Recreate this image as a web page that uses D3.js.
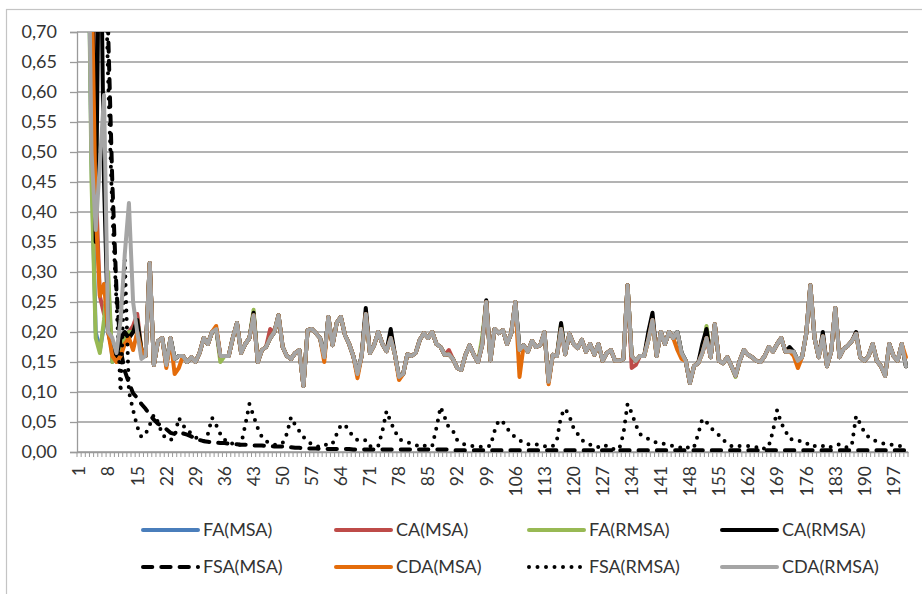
<!DOCTYPE html>
<html>
<head>
<meta charset="utf-8">
<script src="https://cdn.jsdelivr.net/npm/d3@7/dist/d3.min.js"></script>
<style>
  html, body { margin: 0; padding: 0; background: #fff; }
  svg { display: block; font-family: Lato, "Open Sans", sans-serif; }
</style>
</head>
<body>
<svg id="chart" width="922" height="594"></svg>
<script>
// ---- data -------------------------------------------------------------
const categories = d3.range(1, 201);
const xTickLabels = [1, 8, 15, 22, 29, 36, 43, 50, 57, 64, 71, 78, 85, 92, 99, 106, 113,
  120, 127, 134, 141, 148, 155, 162, 169, 176, 183, 190, 197];
const yTicks = [0, 0.05, 0.10, 0.15, 0.20, 0.25, 0.30, 0.35, 0.40, 0.45, 0.50, 0.55, 0.60, 0.65, 0.70];

// CDA(RMSA): the common path the six solid series follow
const cdaRmsa = [
  2.2, 1.6, 1.0, 0.5, 0.37, 0.48, 0.595, 0.2, 0.19, 0.165,
  0.22, 0.33, 0.415, 0.25, 0.2, 0.155, 0.16, 0.315, 0.145, 0.185,
  0.19, 0.145, 0.19, 0.155, 0.16, 0.16, 0.15, 0.158, 0.15, 0.165,
  0.19, 0.18, 0.2, 0.205, 0.16, 0.16, 0.16, 0.19, 0.215, 0.165,
  0.18, 0.19, 0.228, 0.15, 0.17, 0.175, 0.19, 0.2, 0.228, 0.175,
  0.16, 0.155, 0.165, 0.17, 0.11, 0.203, 0.205, 0.198, 0.19, 0.158,
  0.225, 0.178, 0.215, 0.225, 0.195, 0.18, 0.16, 0.13, 0.16, 0.23,
  0.165, 0.178, 0.2, 0.18, 0.168, 0.19, 0.163, 0.125, 0.13, 0.163,
  0.16, 0.165, 0.187, 0.198, 0.19, 0.2, 0.18, 0.175, 0.162, 0.163,
  0.155, 0.14, 0.137, 0.162, 0.178, 0.162, 0.15, 0.178, 0.25, 0.153,
  0.205, 0.198, 0.203, 0.18, 0.198, 0.25, 0.17, 0.178, 0.167, 0.185,
  0.175, 0.178, 0.2, 0.117, 0.162, 0.16, 0.205, 0.163, 0.197, 0.18,
  0.173, 0.187, 0.167, 0.18, 0.162, 0.18, 0.152, 0.165, 0.17, 0.152,
  0.152, 0.155, 0.278, 0.16, 0.152, 0.16, 0.16, 0.187, 0.22, 0.16,
  0.2, 0.18, 0.2, 0.19, 0.2, 0.165, 0.152, 0.115, 0.143, 0.148,
  0.165, 0.19, 0.158, 0.213, 0.152, 0.148, 0.158, 0.143, 0.127, 0.152,
  0.17, 0.162, 0.158, 0.152, 0.15, 0.16, 0.175, 0.167, 0.18, 0.19,
  0.167, 0.168, 0.167, 0.152, 0.158, 0.197, 0.278, 0.19, 0.158, 0.193,
  0.143, 0.167, 0.24, 0.158, 0.172, 0.177, 0.185, 0.197, 0.158, 0.152,
  0.16, 0.18, 0.152, 0.143, 0.127, 0.18, 0.16, 0.152, 0.18, 0.143
];

// points (category -> value) where each other solid series leaves the common path
const faMsaPoints = {1: 2.5, 2: 1.8, 3: 1.0, 4: 0.48, 5: 0.2, 6: 0.17, 7: 0.21, 8: 0.28, 9: 0.15,
  10: 0.16, 11: 0.17, 12: 0.19, 13: 0.2, 14: 0.2, 15: 0.21, 16: 0.17};
const caMsaPoints = {1: 2.2, 2: 1.6, 3: 1.1, 4: 0.9, 5: 0.45, 6: 0.26, 7: 0.23, 8: 0.25, 9: 0.17,
  10: 0.16, 11: 0.18, 12: 0.19, 13: 0.2, 14: 0.21, 15: 0.23, 16: 0.17, 47: 0.205, 90: 0.17,
  134: 0.14, 135: 0.145};
const faRmsaPoints = {1: 2.5, 2: 1.8, 3: 1.0, 4: 0.45, 5: 0.19, 6: 0.165, 7: 0.22, 8: 0.3, 9: 0.15,
  10: 0.16, 11: 0.17, 12: 0.19, 13: 0.2, 14: 0.2, 15: 0.22, 16: 0.17, 35: 0.15, 43: 0.237,
  98: 0.19, 117: 0.212, 152: 0.21, 159: 0.125};
const caRmsaPoints = {1: 2.2, 2: 1.6, 3: 1.1, 4: 1.0, 5: 0.35, 6: 1.0, 7: 0.45, 8: 0.2, 9: 0.17,
  10: 0.16, 11: 0.19, 12: 0.2, 13: 0.19, 14: 0.2, 15: 0.22, 16: 0.17, 43: 0.232, 70: 0.24,
  76: 0.205, 99: 0.253, 117: 0.215, 138: 0.2, 139: 0.232, 151: 0.18, 152: 0.205, 172: 0.175,
  180: 0.2, 188: 0.2};
const cdaMsaPoints = {1: 2.2, 2: 1.6, 3: 1.1, 4: 0.8, 5: 0.4, 6: 0.26, 7: 0.28, 8: 0.2, 9: 0.16,
  10: 0.15, 11: 0.16, 12: 0.18, 13: 0.19, 14: 0.17, 15: 0.2, 16: 0.17, 22: 0.14, 24: 0.13,
  25: 0.14, 34: 0.21, 60: 0.15, 68: 0.123, 78: 0.12, 107: 0.125, 114: 0.113, 145: 0.17,
  146: 0.155, 173: 0.16, 174: 0.14, 200: 0.158};

const fsaMsa = [
  3.0, 2.6, 2.2, 1.8, 1.4, 1.05, 0.85, 0.7, 0.45, 0.27,
  0.17, 0.135, 0.115, 0.098, 0.09, 0.08, 0.072, 0.062, 0.054, 0.047,
  0.043, 0.038, 0.032, 0.03, 0.03, 0.031, 0.029, 0.026, 0.022, 0.02,
  0.018, 0.017, 0.016, 0.016, 0.015, 0.015, 0.014, 0.013, 0.013, 0.012,
  0.012, 0.012, 0.011, 0.011, 0.011, 0.010, 0.010, 0.009, 0.009, 0.009,
  0.008, 0.008, 0.007, 0.007, 0.006, 0.006, 0.006, 0.006, 0.005, 0.005,
  0.005, 0.005, 0.005, 0.005, 0.005, 0.005, 0.004, 0.004, 0.004, 0.004,
  0.004, 0.004, 0.004, 0.004, 0.004, 0.004, 0.004, 0.004, 0.004, 0.004,
  0.004, 0.004, 0.004, 0.004, 0.004, 0.004, 0.004, 0.004, 0.004, 0.004,
  0.003, 0.003, 0.003, 0.003, 0.003, 0.003, 0.003, 0.003, 0.003, 0.003,
  0.003, 0.003, 0.003, 0.003, 0.003, 0.003, 0.003, 0.003, 0.003, 0.003,
  0.003, 0.003, 0.003, 0.003, 0.003, 0.003, 0.003, 0.003, 0.003, 0.003,
  0.003, 0.003, 0.003, 0.003, 0.003, 0.003, 0.003, 0.003, 0.003, 0.003,
  0.003, 0.003, 0.003, 0.003, 0.003, 0.003, 0.003, 0.003, 0.003, 0.003,
  0.003, 0.003, 0.003, 0.003, 0.003, 0.003, 0.003, 0.003, 0.003, 0.003,
  0.003, 0.003, 0.003, 0.003, 0.003, 0.003, 0.003, 0.003, 0.003, 0.003,
  0.003, 0.003, 0.003, 0.003, 0.003, 0.003, 0.003, 0.003, 0.003, 0.003,
  0.003, 0.003, 0.003, 0.003, 0.003, 0.003, 0.003, 0.003, 0.003, 0.003,
  0.003, 0.003, 0.003, 0.003, 0.003, 0.003, 0.003, 0.003, 0.003, 0.003,
  0.003, 0.003, 0.003, 0.003, 0.003, 0.003, 0.003, 0.003, 0.003, 0.003
];

const fsaRmsa = [
  6.0, 5.0, 4.0, 3.0, 2.0, 1.3, 0.9, 0.62, 0.4, 0.25,
  0.1, 0.32, 0.1, 0.07, 0.042, 0.025, 0.03, 0.045, 0.062, 0.05,
  0.03, 0.022, 0.02, 0.025, 0.057, 0.045, 0.035, 0.032, 0.025, 0.02,
  0.018, 0.03, 0.057, 0.045, 0.03, 0.02, 0.02, 0.013, 0.01, 0.013,
  0.045, 0.08, 0.06, 0.04, 0.025, 0.018, 0.015, 0.012, 0.012, 0.015,
  0.03, 0.058, 0.045, 0.035, 0.025, 0.018, 0.013, 0.01, 0.008, 0.01,
  0.015, 0.014, 0.03, 0.045, 0.045, 0.035, 0.025, 0.02, 0.018, 0.02,
  0.01, 0.008, 0.01, 0.035, 0.068, 0.05, 0.035, 0.022, 0.018, 0.016,
  0.015, 0.012, 0.008, 0.01, 0.012, 0.01, 0.04, 0.075, 0.058, 0.04,
  0.035, 0.02, 0.015, 0.012, 0.01, 0.01, 0.01, 0.008, 0.01, 0.01,
  0.035, 0.053, 0.05, 0.04, 0.03, 0.025, 0.02, 0.015, 0.013, 0.012,
  0.013, 0.01, 0.01, 0.008, 0.01, 0.02, 0.06, 0.072, 0.06, 0.04,
  0.03, 0.02, 0.015, 0.012, 0.012, 0.008, 0.012, 0.01, 0.005, 0.005,
  0.005, 0.03, 0.08, 0.065, 0.045, 0.03, 0.025, 0.022, 0.02, 0.015,
  0.015, 0.013, 0.012, 0.01, 0.008, 0.007, 0.01, 0.005, 0.008, 0.03,
  0.055, 0.05, 0.04, 0.035, 0.028, 0.02, 0.015, 0.01, 0.008, 0.01,
  0.01, 0.01, 0.01, 0.008, 0.01, 0.005, 0.01, 0.035, 0.07, 0.048,
  0.035, 0.022, 0.02, 0.02, 0.016, 0.013, 0.015, 0.01, 0.008, 0.01,
  0.012, 0.008, 0.01, 0.013, 0.01, 0.007, 0.012, 0.06, 0.047, 0.033,
  0.025, 0.02, 0.018, 0.016, 0.013, 0.012, 0.012, 0.011, 0.009, 0.008
];

const onPath = (points) => cdaRmsa.map((v, i) => (points[i + 1] !== undefined ? points[i + 1] : v));

const series = [
  {name: "FA(MSA)",   values: onPath(faMsaPoints),  color: "#4A7EBB", dash: null},
  {name: "CA(MSA)",   values: onPath(caMsaPoints),  color: "#BE4B48", dash: null},
  {name: "FA(RMSA)",  values: onPath(faRmsaPoints), color: "#98B954", dash: null},
  {name: "CA(RMSA)",  values: onPath(caRmsaPoints), color: "#000000", dash: null},
  {name: "FSA(MSA)",  values: fsaMsa,               color: "#000000", dash: "9.3,9"},
  {name: "CDA(MSA)",  values: onPath(cdaMsaPoints), color: "#E46C0A", dash: null},
  {name: "FSA(RMSA)", values: fsaRmsa,              color: "#000000", dash: "0,8.5"},
  {name: "CDA(RMSA)", values: cdaRmsa,              color: "#A5A5A5", dash: null}
];

// ---- layout -----------------------------------------------------------
const plot = {left: 77, right: 908, top: 32, bottom: 452};
const svg = d3.select("#chart");
const gridColor = "#9A9A9A";
const textColor = "#333333";
const fontFamily = "Lato, 'Open Sans', sans-serif";

const x = d3.scaleBand().domain(categories).range([plot.left, plot.right]).padding(0);
const xc = (c) => x(c) + x.bandwidth() / 2;
const y = d3.scaleLinear().domain([0, 0.7]).range([plot.bottom, plot.top]);

const comma = d3.formatLocale({decimal: ",", thousands: ".", grouping: [3], currency: ["", ""]}).format(".2f");

// chart frame
svg.append("rect")
  .attr("x", 6.5).attr("y", 9.5).attr("width", 1000).attr("height", 1000)
  .attr("fill", "none").attr("stroke", "#C4C4C4").attr("stroke-width", 1.2);

// horizontal gridlines
svg.append("g").selectAll("line").data(yTicks).join("line")
  .attr("x1", plot.left).attr("x2", plot.right)
  .attr("y1", d => y(d)).attr("y2", d => y(d))
  .attr("stroke", gridColor).attr("stroke-width", 1.3);

// y axis
const yAxis = svg.append("g")
  .attr("transform", `translate(${plot.left},0)`)
  .call(d3.axisLeft(y).tickValues(yTicks).tickFormat(comma).tickSize(7).tickPadding(13));
yAxis.select(".domain").attr("stroke", gridColor).attr("stroke-width", 1.3);
yAxis.selectAll(".tick line").attr("stroke", gridColor).attr("stroke-width", 1.3);
yAxis.selectAll("text").attr("fill", textColor).style("font-size", "18px")
  .style("font-family", fontFamily);

// x axis: minor ticks at category boundaries
const boundaries = categories.map(c => x(c)).concat([plot.right]);
svg.append("g").selectAll("line").data(boundaries).join("line")
  .attr("x1", d => d).attr("x2", d => d)
  .attr("y1", plot.bottom).attr("y2", plot.bottom + 5)
  .attr("stroke", gridColor).attr("stroke-width", 1);

const xAxis = svg.append("g")
  .attr("transform", `translate(0,${plot.bottom})`)
  .call(d3.axisBottom(x).tickValues(xTickLabels).tickSize(0));
xAxis.select(".domain").attr("stroke", gridColor).attr("stroke-width", 1.3);
xAxis.selectAll("text")
  .attr("y", 0).attr("x", -14).attr("dy", "0.36em")
  .attr("transform", "rotate(-90)")
  .style("text-anchor", "end")
  .attr("fill", textColor).style("font-size", "17.5px")
  .style("font-family", fontFamily);

// series lines, clipped to the plot area
svg.append("clipPath").attr("id", "plot-clip").append("rect")
  .attr("x", plot.left).attr("y", plot.top)
  .attr("width", plot.right - plot.left).attr("height", plot.bottom - plot.top);

const line = d3.line().x((d, i) => xc(categories[i])).y(d => y(d));

svg.append("g").attr("clip-path", "url(#plot-clip)")
  .selectAll("path").data(series).join("path")
  .attr("d", d => line(d.values))
  .attr("fill", "none")
  .attr("stroke", d => d.color)
  .attr("stroke-width", 4)
  .attr("stroke-linejoin", "round")
  .attr("stroke-linecap", "round")
  .attr("stroke-dasharray", d => d.dash);

// legend: two rows of four entries
const legendCols = [143, 336, 529, 722];
const legendRows = [530, 567];
const lineLen = 55;
const legend = svg.append("g").selectAll("g").data(series).join("g")
  .attr("transform", (d, i) => `translate(${legendCols[i % 4]},${legendRows[Math.floor(i / 4)]})`);
legend.append("line")
  .attr("x1", 0).attr("x2", lineLen).attr("y1", 0).attr("y2", 0)
  .attr("stroke", d => d.color).attr("stroke-width", 4)
  .attr("stroke-linecap", "round")
  .attr("stroke-dasharray", d => d.dash);
legend.append("text")
  .attr("x", lineLen + 5).attr("y", 0).attr("dy", "0.35em")
  .attr("fill", textColor).style("font-size", "18px")
  .style("font-family", fontFamily)
  .text(d => d.name);
</script>
</body>
</html>
